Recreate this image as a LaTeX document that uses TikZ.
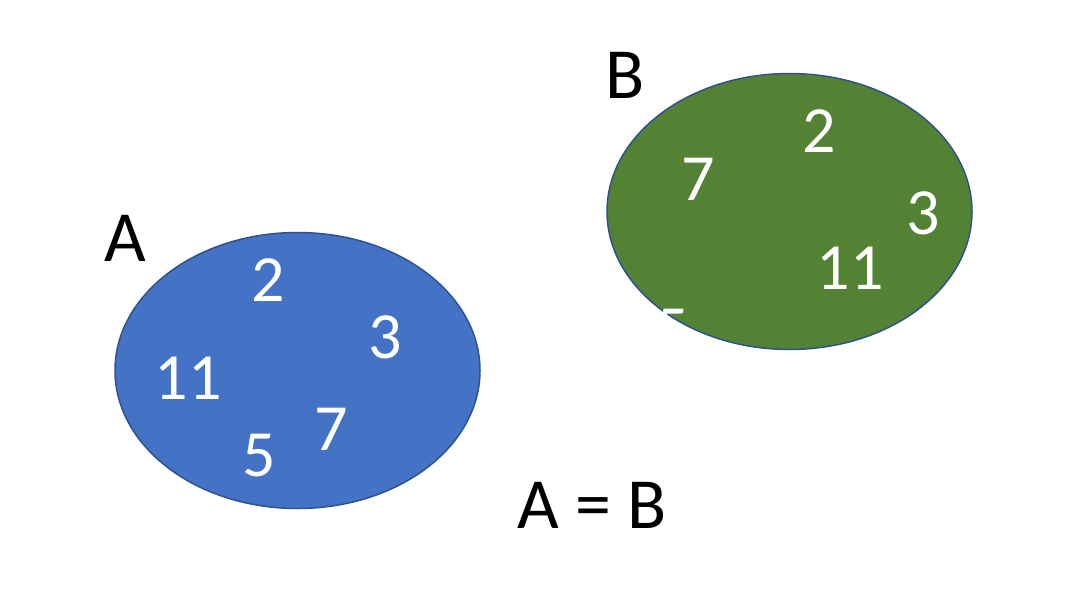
\documentclass[tikz,border=0pt]{standalone}
\usepackage{fontspec}
\setmainfont{Carlito}
\usetikzlibrary{shapes.geometric}
\definecolor{SetBlue}{HTML}{4472C4}
\definecolor{SetGreen}{HTML}{548235}
\definecolor{SetEdge}{HTML}{2F528F}
\tikzset{
  setbox/.style={ellipse,draw=SetEdge,line width=1.5pt,inner sep=0pt,
    minimum width=365pt,minimum height=276pt},
  setA/.style={setbox,fill=SetBlue},
  setB/.style={setbox,fill=SetGreen},
  elem/.style={text=white,inner sep=0pt,font=\fontsize{66}{66}\selectfont},
  setlabel/.style={text=black,inner sep=0pt,font=\fontsize{72}{72}\selectfont}
}
\begin{document}
\begin{tikzpicture}[x=1pt,y=-1pt]
  \useasboundingbox (0,0) rectangle (1081,610);
  % set A
  \node[setA] (A) at (297.5,370.5) {};
  \node[setlabel] (labA) at (125,238) {A};
  \node[elem] (a2) at (268,280) {2};
  \node[elem] (a3) at (385,337) {3};
  \node[elem] (a11) at (188,378) {11};
  \node[elem] (a7) at (331,429) {7};
  \node[elem] (a5) at (259,456) {5};
  % set B
  \node[setB] (B) at (789.5,211.5) {};
  \node[setlabel] (labB) at (625,75) {B};
  \node[elem] (b2) at (819,131) {2};
  \node[elem] (b7) at (698,179) {7};
  \node[elem] (b3) at (923,213) {3};
  \node[elem] (b11) at (850,268) {11};
  \node[elem] (b5) at (672,331) {5};
  % equality
  \node[setlabel] (eq) at (592,505) {A = B};
\end{tikzpicture}
\end{document}
